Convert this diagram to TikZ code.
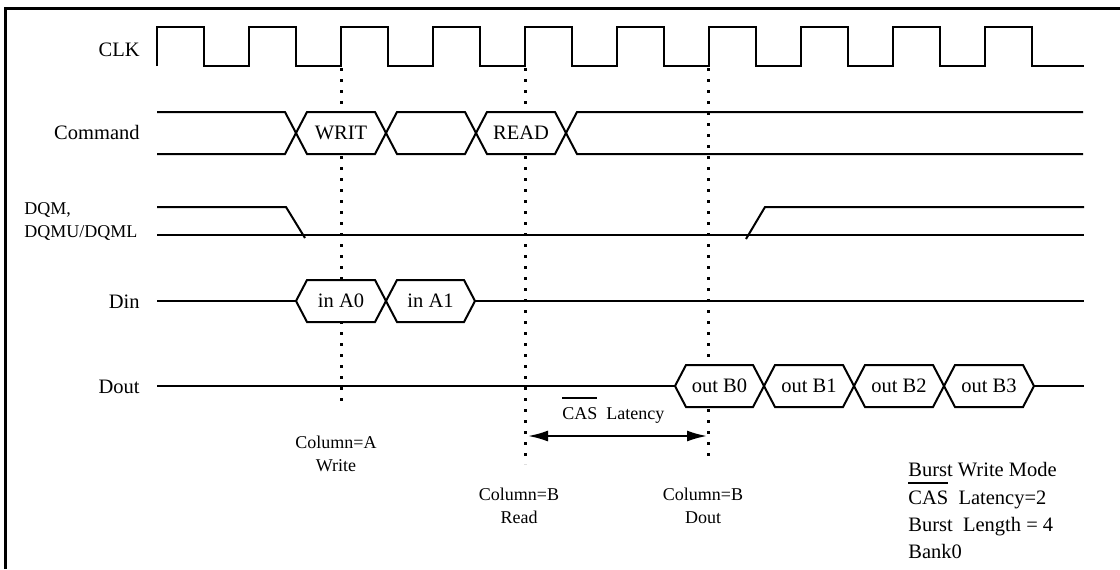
\documentclass[tikz,border=0pt]{standalone}
\usepackage{fontspec}
\setmainfont{Liberation Serif}
\usetikzlibrary{arrows.meta}
% bar over a word (active-low signal), #1 = gap above the letters
\newcommand{\barred}[2][3.3pt]{\leavevmode\vbox{\hrule height 1pt\kern#1\hbox{#2}}}
% one value on a bus: name, left x, right x, middle y, text
\newcommand{\busval}[5]{%
  \draw[wave, fill=white] (#2,#4) -- ({#2+11},{#4-21}) -- ({#3-11},{#4-21})
    -- (#3,#4) -- ({#3-11},{#4+21}) -- ({#2+11},{#4+21}) -- cycle;
  \node[val] (#1) at ({(#2+#3)/2},#4) {#5};}

\begin{document}
\begin{tikzpicture}[x=0.5pt, y=-0.5pt, font=\fontsize{10.25}{13.7}\selectfont,
  wave/.style={line width=1pt, line join=miter},
  guide/.style={line width=1.5pt, dash pattern=on 1.5pt off 4pt},
  signame/.style={anchor=east, inner sep=0pt},
  val/.style={inner sep=0pt},
  note/.style={font=\fontsize{9}{11.5}\selectfont, inner sep=0pt}]

\useasboundingbox (0,0) rectangle (1120,569);
\draw[line width=1.2pt] (5.5,569) -- (5.5,8.5) -- (1120,8.5);

% signal names
\node[signame] (clk)  at (140,50)  {CLK};
\node[signame] (cmd)  at (140,132) {Command};
\node[signame] (din)  at (140,302) {Din};
\node[signame] (dout) at (140,387) {Dout};
\node[note, anchor=north west, align=left] (dqm) at (24,202) {DQM,\\DQMU/DQML};

% clock
\draw[wave] (157,66) \foreach \k in {1,...,10} {
  -- ++(0,-39) -- ++(47,0) -- ++(0,39) -- ++(45,0)} -- (1084,66);

% guides at the sampling edges, behind the bus values
\coordinate (wtop) at (341,68);  \coordinate (wbot) at (341,408);
\coordinate (rtop) at (525,68);  \coordinate (rbot) at (525,464);
\coordinate (otop) at (708,68);  \coordinate (obot) at (708,463);
\draw[guide] (wtop) -- (wbot);
\draw[guide] (rtop) -- (rbot);
\draw[guide] (otop) -- (obot);

% command bus
\draw[wave] (157,112) -- (285,112) -- (296,133);
\draw[wave] (157,154) -- (285,154) -- (296,133);
\busval{writ}{296}{386}{133}{WRIT}
\busval{nop}{386}{476}{133}{}
\busval{read}{476}{566}{133}{READ}
\draw[wave] (566,133) -- (577,112) -- (1083,112);
\draw[wave] (566,133) -- (577,154) -- (1083,154);

% data mask
\draw[wave] (157,207) -- (286,207) -- (305,238);
\draw[wave] (157,235) -- (1084,235);
\draw[wave] (746,239) -- (765,207) -- (1084,207);

% data in
\draw[wave] (157,301) -- (296,301);
\busval{ina0}{296}{386}{301}{in A0}
\busval{ina1}{386}{475}{301}{in A1}
\draw[wave] (475,301) -- (1084,301);

% data out, burst of four
\draw[wave] (157,386) -- (675,386);
\busval{outb0}{675}{764}{386}{out B0}
\busval{outb1}{764}{854}{386}{out B1}
\busval{outb2}{854}{944}{386}{out B2}
\busval{outb3}{944}{1034}{386}{out B3}
\draw[wave] (1034,386) -- (1084,386);

% latency between read and first data
\coordinate (lat0) at (525,436);
\coordinate (lat1) at (708,436);
\draw[line width=1pt, {Latex[length=10pt,width=5.5pt]}-{Latex[length=10pt,width=5.5pt]},
      shorten <=1.5pt, shorten >=0.5pt] (lat0) -- (lat1);
\node[note, anchor=base west] (caslat) at (562,419) {\barred[4pt]{CAS}\ \ Latency};

\node[note, anchor=north, align=center] (cola) at (336,436) {Column=A\\Write};
\node[note, anchor=north, align=center] (colb) at (519,488) {Column=B\\Read};
\node[note, anchor=north, align=center] (colo) at (703,488) {Column=B\\Dout};

\node[anchor=north west, inner sep=0pt, align=left] (mode) at (908,462)
  {Burst Write Mode\\\barred{CAS}\ \ Latency=2\\Burst\ \ Length = 4\\Bank0};
\end{tikzpicture}
\end{document}
